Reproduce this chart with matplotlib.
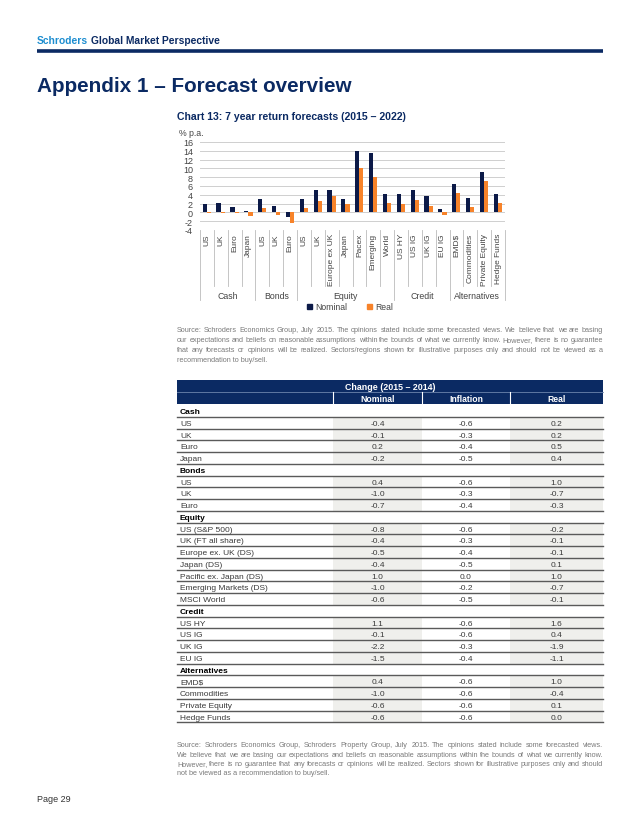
import matplotlib
matplotlib.use("Agg")
import matplotlib.pyplot as plt
from matplotlib.patches import Rectangle, Patch

plt.rcParams['font.family'] = ['Liberation Sans', 'DejaVu Sans']
plt.rcParams['axes.unicode_minus'] = False

NAVY = '#0b2a63'
BAR_NAVY = '#0c1a48'
ORANGE = '#f7832a'
GREY_TXT = '#444444'
SRC_GREY = '#7a7a7a'

# ---- chart data ----
categories = ['US', 'UK', 'Euro', 'Japan', 'US', 'UK', 'Euro', 'US', 'UK', 'Europe ex UK',
              'Japan', 'Pacex', 'Emerging', 'World', 'US HY', 'US IG', 'UK IG', 'EU IG',
              'EMD$', 'Commodities', 'Private Equity', 'Hedge Funds']
nominal = [1.8, 2.2, 1.2, 0.3, 3.0, 1.4, -1.0, 3.0, 5.1, 5.1, 3.0, 13.9, 13.5, 4.2,
           4.2, 5.0, 3.7, 0.8, 6.5, 3.2, 9.2, 4.2]
real = [-0.2, -0.1, -0.1, -0.9, 0.9, -0.7, -2.5, 1.0, 2.7, 3.8, 1.8, 10.2, 8.0, 2.2,
        2.0, 2.8, 1.4, -0.6, 4.4, 1.2, 7.1, 2.2]
groups = ['Cash', 'Bonds', 'Equity', 'Credit', 'Alternatives']
group_sizes = [4, 3, 7, 4, 4]

# ---- table data ----
sections = ['Cash', 'Bonds', 'Equity', 'Credit', 'Alternatives']
row_labels = [
    ['US', 'UK', 'Euro', 'Japan'],
    ['US', 'UK', 'Euro'],
    ['US (S&P 500)', 'UK (FT all share)', 'Europe ex. UK (DS)', 'Japan (DS)',
     'Pacific ex. Japan (DS)', 'Emerging Markets (DS)', 'MSCI World'],
    ['US HY', 'US IG', 'UK IG', 'EU IG'],
    ['EMD$', 'Commodities', 'Private Equity', 'Hedge Funds'],
]
chg_nominal = [-0.4, -0.1, 0.2, -0.2, 0.4, -1.0, -0.7, -0.8, -0.4, -0.5, -0.4, 1.0, -1.0, -0.6,
               1.1, -0.1, -2.2, -1.5, 0.4, -1.0, -0.6, -0.6]
chg_inflation = [-0.6, -0.3, -0.4, -0.5, -0.6, -0.3, -0.4, -0.6, -0.3, -0.4, -0.5, 0.0, -0.2, -0.5,
                 -0.6, -0.6, -0.3, -0.4, -0.6, -0.6, -0.6, -0.6]
chg_real = [0.2, 0.2, 0.5, 0.4, 1.0, -0.7, -0.3, -0.2, -0.1, -0.1, 0.1, 1.0, -0.7, -0.1,
            1.6, 0.4, -1.9, -1.1, 1.0, -0.4, 0.1, 0.0]

src1 = ["Source: Schroders Economics Group, July 2015. The opinions stated include some forecasted views. We believe that we are basing",
        "our expectations and beliefs on reasonable assumptions within the bounds of what we currently know. However, there is no guarantee",
        "that any forecasts or opinions will be realized. Sectors/regions shown for illustrative purposes only and should not be viewed as a",
        "recommendation to buy/sell."]
src2 = ["Source: Schroders Economics Group, Schroders Property Group, July 2015. The opinions stated include some forecasted views.",
        "We believe that we are basing our expectations and beliefs on reasonable assumptions within the bounds of what we currently know.",
        "However, there is no guarantee that any forecasts or opinions will be realized. Sectors shown for illustrative purposes only and should",
        "not be viewed as a recommendation to buy/sell."]

W, H = 640, 828
fig = plt.figure(figsize=(6.4, 8.28), dpi=100)
page = fig.add_axes([0, 0, 1, 1])
page.set_xlim(0, W)
page.set_ylim(H, 0)
page.axis('off')
renderer = fig.canvas.get_renderer()

# ---- page header ----
t1 = page.text(37, 44, 'Schroders', fontsize=7.4, fontweight='bold', color='#1c8dd0',
               va='baseline')
bb = t1.get_window_extent(renderer)
page.text(37 + bb.width + 2.5, 44, 'Global Market Perspective', fontsize=7.4, fontweight='bold',
          color=NAVY, va='baseline')
page.plot([37, 603], [52, 52], color=NAVY, lw=2.6, solid_capstyle='butt')
page.text(37, 92, 'Appendix 1 \u2013 Forecast overview', fontsize=14.9, fontweight='bold',
          color=NAVY, va='baseline')
page.text(177, 120, 'Chart 13: 7 year return forecasts (2015 \u2013 2022)', fontsize=7.6,
          fontweight='bold', color=NAVY, va='baseline')
page.text(37, 802, 'Page 29', fontsize=6.5, color='#333333', va='baseline')

# ---- chart ----
ax = fig.add_axes([200 / W, 1 - 231 / H, 305 / W, 88 / H])
x = list(range(len(categories)))
ax.bar([i - 0.16 for i in x], nominal, width=0.3, color=BAR_NAVY, zorder=3)
ax.bar([i + 0.14 for i in x], real, width=0.3, color=ORANGE, zorder=3)
ax.set_xlim(-0.5, len(categories) - 0.5)
ax.set_ylim(-4, 16)
ax.set_yticks(range(-4, 17, 2))
ax.set_xticks([])
ax.grid(axis='y', color='#cfcfcf', lw=0.7, zorder=0)
for s in ax.spines.values():
    s.set_visible(False)
ax.tick_params(axis='y', length=0, labelsize=6.5, labelcolor=GREY_TXT, pad=5)
ax.text(-0.07, 1.11, '% p.a.', transform=ax.transAxes, fontsize=6.3, color=GREY_TXT,
        ha='left', va='center')

xt = ax.get_xaxis_transform()
for i, lab in enumerate(categories):
    ax.text(i, -0.035, lab, transform=xt, rotation=90, ha='center', va='top',
            fontsize=6.0, color=GREY_TXT)
bounds = [0]
for g in group_sizes:
    bounds.append(bounds[-1] + g)
for b in range(len(categories) + 1):
    y_end = -0.79 if b in bounds else -0.64
    ax.plot([b - 0.5, b - 0.5], [0, y_end], transform=xt, color='#bbbbbb', lw=0.6,
            clip_on=False)
for gi, g in enumerate(groups):
    c = (bounds[gi] + bounds[gi + 1]) / 2 - 0.5
    ax.text(c, -0.74, g, transform=xt, ha='center', va='center', fontsize=6.3, color=GREY_TXT)

fig.legend(handles=[Patch(color=BAR_NAVY, label='Nominal'), Patch(color=ORANGE, label='Real')],
           loc='center', bbox_to_anchor=(350 / W, 1 - 308 / H), ncol=2, frameon=False,
           fontsize=6.2, handlelength=0.6, handleheight=0.6, handletextpad=0.4,
           columnspacing=2.2, labelcolor=GREY_TXT)


# ---- justified paragraphs ----
def justified(lines, x0, x1, y0, dy, size):
    for li, line in enumerate(lines):
        y = y0 + li * dy
        words = line.split(' ')
        if li == len(lines) - 1:
            page.text(x0, y, line, fontsize=size, color=SRC_GREY, va='baseline')
            continue
        objs = [page.text(0, y, w, fontsize=size, color=SRC_GREY, va='baseline') for w in words]
        widths = [o.get_window_extent(renderer).width for o in objs]
        gap = (x1 - x0 - sum(widths)) / (len(words) - 1)
        cx = x0
        for o, wd in zip(objs, widths):
            o.set_x(cx)
            cx += wd + gap


justified(src1, 177, 603, 332.5, 10, 5.2)
justified(src2, 177, 603, 747.5, 9.3, 5.2)

# ---- table ----
cols = [177, 333, 422, 510, 603]
page.add_patch(Rectangle((cols[0], 381), cols[-1] - cols[0], 24, color=NAVY, lw=0))
page.plot([cols[0], cols[-1]], [393, 393], color='#6d84ad', lw=0.6)
for cx in cols[1:-1]:
    page.plot([cx, cx], [393, 405], color='white', lw=0.8)
page.text((cols[0] + cols[-1]) / 2, 387.5, 'Change (2015 \u2013 2014)', fontsize=6.4,
          fontweight='bold', color='white', ha='center', va='center')
for k, hd in enumerate(['Nominal', 'Inflation', 'Real']):
    page.text((cols[k + 1] + cols[k + 2]) / 2, 399.5, hd, fontsize=6.2, fontweight='bold',
              color='white', ha='center', va='center')

row_h = 11.75
top = 406
r = 0
vi = 0
for sec, labs in zip(sections, row_labels):
    yb = top + r * row_h + row_h / 2 + 2.2
    page.text(180, yb, sec, fontsize=6.0, fontweight='bold', color='black', va='baseline')
    page.plot([cols[0], cols[-1]], [top + (r + 1) * row_h] * 2, color='#5a5a5a', lw=1.0)
    r += 1
    for lab in labs:
        ytop = top + r * row_h
        yb = ytop + row_h / 2 + 2.2
        for k in (0, 2):
            page.add_patch(Rectangle((cols[k + 1], ytop), cols[k + 2] - cols[k + 1], row_h,
                                     color='#efefec', lw=0, zorder=0))
        page.text(180, yb, lab, fontsize=6.0, color='#3a3a3a', va='baseline')
        for k, vals in enumerate([chg_nominal, chg_inflation, chg_real]):
            page.text((cols[k + 1] + cols[k + 2]) / 2, yb, f'{vals[vi]:.1f}', fontsize=6.0,
                      color='#3a3a3a', ha='center', va='baseline')
        page.plot([cols[0], cols[-1]], [ytop + row_h] * 2, color='#5a5a5a', lw=1.0)
        r += 1
        vi += 1

fig.savefig('out.png', dpi=100)
